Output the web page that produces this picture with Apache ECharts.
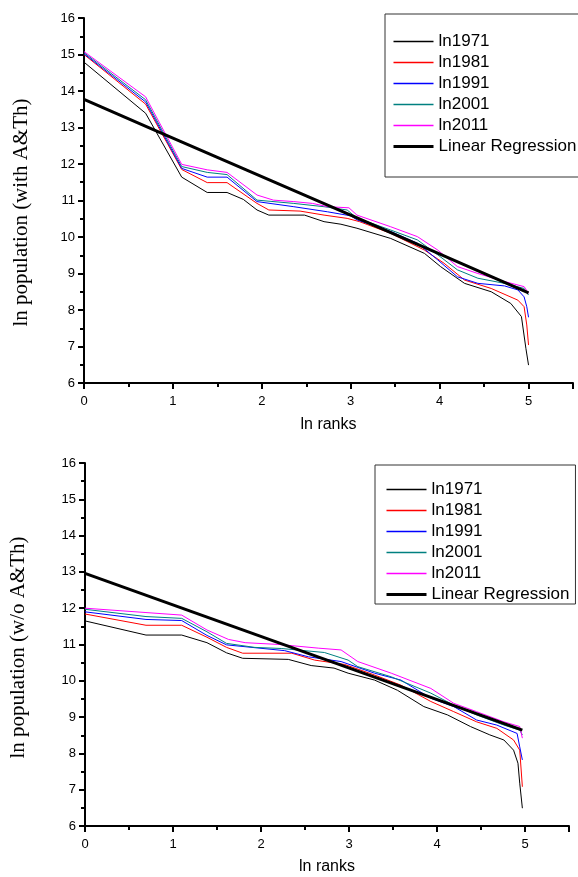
<!DOCTYPE html>
<html>
<head>
<meta charset="utf-8">
<script src="https://cdn.jsdelivr.net/npm/echarts@6/dist/echarts.min.js"></script>
<style>
  html, body { margin: 0; padding: 0; background: #fff; }
  #chart { width: 578px; height: 877px; }
</style>
</head>
<body>
<div id="chart"></div>
<script>
// series names (legend order)
const seriesNames = ['ln1971', 'ln1981', 'ln1991', 'ln2001', 'ln2011', 'Linear Regression'];
const seriesColors = ['#000000', '#ff0000', '#0000ff', '#008080', '#ff00ff', '#000000'];

// top panel : with A&Th  [ln rank, ln population]
const top1971 = [[0,14.79],[0.693,13.39],[1.099,11.64],[1.386,11.22],[1.609,11.22],[1.792,11.03],[1.946,10.74],[2.079,10.60],[2.48,10.60],[2.70,10.42],[2.89,10.35],[3.07,10.24],[3.45,9.96],[3.83,9.55],[4.01,9.19],[4.28,8.73],[4.58,8.50],[4.80,8.18],[4.92,7.82],[4.97,6.95],[5.00,6.49]];
const top1981 = [[0,15.00],[0.693,13.64],[1.099,11.85],[1.386,11.49],[1.609,11.49],[1.946,10.92],[2.079,10.74],[2.43,10.71],[2.70,10.60],[2.96,10.51],[3.10,10.42],[3.45,10.10],[3.83,9.64],[4.05,9.28],[4.28,8.82],[4.58,8.59],[4.88,8.27],[4.95,8.09],[4.98,7.59],[5.00,7.04]];
const top1991 = [[0,15.02],[0.693,13.70],[1.099,11.88],[1.386,11.64],[1.609,11.64],[1.946,10.97],[2.36,10.83],[2.74,10.69],[3.00,10.58],[3.07,10.47],[3.45,10.15],[3.75,9.83],[3.98,9.37],[4.20,8.91],[4.43,8.73],[4.73,8.66],[4.88,8.55],[4.95,8.36],[4.98,8.09],[5.00,7.80]];
const top2001 = [[0,15.05],[0.693,13.76],[1.099,11.93],[1.386,11.77],[1.609,11.71],[1.946,11.01],[2.36,10.92],[2.70,10.83],[2.96,10.74],[3.07,10.52],[3.45,10.19],[3.75,9.92],[3.98,9.51],[4.20,9.10],[4.43,8.87],[4.73,8.73],[4.95,8.59],[5.00,8.41]];
const top2011 = [[0,15.08],[0.693,13.84],[1.099,11.99],[1.386,11.84],[1.609,11.77],[1.946,11.15],[2.13,11.01],[2.36,10.97],[2.57,10.92],[2.74,10.83],[2.98,10.80],[3.07,10.60],[3.45,10.28],[3.75,10.01],[3.98,9.64],[4.20,9.19],[4.43,9.00],[4.73,8.78],[4.95,8.64],[5.00,8.46]];
const topRegression = [[0,13.77],[0.857,12.86],[3.11,10.48],[5.00,8.47]];

// bottom panel : without A&Th
const bot1971 = [[0,11.65],[0.693,11.26],[1.099,11.26],[1.386,11.05],[1.609,10.77],[1.792,10.62],[2.31,10.59],[2.57,10.42],[2.83,10.35],[2.99,10.21],[3.29,10.02],[3.55,9.74],[3.85,9.29],[4.12,9.06],[4.38,8.74],[4.60,8.51],[4.76,8.37],[4.87,8.09],[4.92,7.73],[4.94,7.18],[4.97,6.49]];
const bot1981 = [[0,11.84],[0.693,11.53],[1.099,11.53],[1.386,11.20],[1.609,10.92],[1.792,10.76],[2.35,10.76],[2.61,10.57],[2.95,10.45],[3.29,10.16],[3.59,9.88],[3.93,9.43],[4.19,9.15],[4.45,8.87],[4.68,8.69],[4.87,8.37],[4.94,8.09],[4.97,7.08]];
const bot1991 = [[0,11.90],[0.693,11.69],[1.099,11.66],[1.386,11.25],[1.609,10.99],[2.27,10.83],[2.54,10.66],[2.91,10.53],[3.29,10.21],[3.59,10.02],[3.93,9.52],[4.19,9.29],[4.45,8.92],[4.68,8.78],[4.91,8.55],[4.94,8.18],[4.97,7.82]];
const bot2001 = [[0,11.97],[0.693,11.77],[1.099,11.72],[1.386,11.35],[1.609,11.03],[1.93,10.92],[2.23,10.89],[2.72,10.78],[2.99,10.57],[3.10,10.39],[3.48,10.11],[3.93,9.66],[4.19,9.33],[4.45,9.06],[4.76,8.78],[4.94,8.64],[4.97,8.51]];
const bot2011 = [[0,12.00],[0.693,11.88],[1.099,11.81],[1.386,11.40],[1.63,11.14],[1.82,11.05],[2.21,11.00],[2.65,10.90],[2.91,10.85],[3.10,10.53],[3.48,10.21],[3.93,9.79],[4.19,9.38],[4.45,9.15],[4.76,8.87],[4.94,8.74],[4.97,8.42]];
const botRegression = [[0,12.96],[4.97,8.64]];

const topData = [top1971, top1981, top1991, top2001, top2011, topRegression];
const botData = [bot1971, bot1981, bot1991, bot2001, bot2011, botRegression];

const xName = 'ln ranks';
const yNames = ['ln population (with A&Th)', 'ln population (w/o A&Th)'];

const chart = echarts.init(document.getElementById('chart'), null, { renderer: 'canvas' });

function makeX(gridIndex, gap) {
  return {
    type: 'value', gridIndex: gridIndex, min: 0, max: 5.5, interval: 1,
    name: xName, nameLocation: 'middle', nameGap: gap,
    nameTextStyle: { fontFamily: 'Liberation Sans', fontSize: 16, color: '#000' },
    axisLine: { show: true, lineStyle: { color: '#000', width: 2 } },
    axisTick: { show: true, length: 6, lineStyle: { color: '#000', width: 2 } },
    minorTick: { show: true, splitNumber: 2, length: 4, lineStyle: { color: '#000', width: 2 } },
    axisLabel: {
      margin: 12, fontFamily: 'Liberation Sans', fontSize: 13, color: '#000',
      formatter: v => (Number.isInteger(v) ? String(v) : '')
    },
    splitLine: { show: false }
  };
}
function makeY(gridIndex, name, gap, pad) {
  return {
    type: 'value', gridIndex: gridIndex, min: 6, max: 16, interval: 1,
    name: name, nameLocation: 'middle', nameGap: gap,
    nameTextStyle: { fontFamily: 'Liberation Serif', fontSize: 21, color: '#000', padding: pad },
    axisLine: { show: true, lineStyle: { color: '#000', width: 2 } },
    axisTick: { show: true, length: 6, lineStyle: { color: '#000', width: 2 } },
    minorTick: { show: true, splitNumber: 2, length: 4, lineStyle: { color: '#000', width: 2 } },
    axisLabel: { margin: 9, fontFamily: 'Liberation Sans', fontSize: 13, color: '#000' },
    splitLine: { show: false }
  };
}

const series = [];
[topData, botData].forEach((group, gi) => {
  group.forEach((d, i) => {
    series.push({
      name: seriesNames[i], type: 'line', xAxisIndex: gi, yAxisIndex: gi,
      data: d, symbol: 'none', animation: false,
      lineStyle: { color: seriesColors[i], width: i === 5 ? 3 : 1 },
      itemStyle: { color: seriesColors[i] },
      z: i === 5 ? 3 : 2
    });
  });
});

// itemHeight kept tiny so the legend marker is only the line sample
function makeLegend(left, top, padding) {
  return {
    orient: 'vertical', left: left, top: top, padding: padding,
    itemWidth: 40, itemHeight: 1, itemGap: 4,
    borderColor: '#333', borderWidth: 1, backgroundColor: '#fff',
    textStyle: { fontFamily: 'Liberation Sans', fontSize: 17, color: '#000' },
    data: seriesNames.map((n, i) => ({
      name: n,
      lineStyle: { color: seriesColors[i], width: i === 5 ? 3 : 1.5 }
    }))
  };
}

chart.setOption({
  animation: false,
  backgroundColor: '#fff',
  grid: [
    { left: 84, top: 18, width: 489, height: 365 },
    { left: 82, top: 463, width: 487, height: 363 }
  ],
  xAxis: [makeX(0, 34), makeX(1, 33)],
  yAxis: [makeY(0, yNames[0], 52, [0, 24, 0, 0]), makeY(1, yNames[1], 56, [0, 6, 0, 0])],
  legend: [
    makeLegend(385, 14, [19, 20, 22, 7]),
    makeLegend(375, 465, [16, 6, 1, 10])
  ],
  series: series
});
</script>
</body>
</html>
